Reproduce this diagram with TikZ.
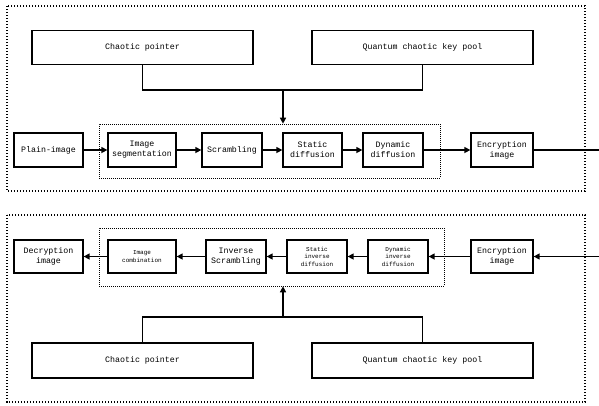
\documentclass[tikz,border=0pt]{standalone}
\usepackage{fontspec}
\setmainfont{Liberation Mono}
\usepackage{tikz}
\usetikzlibrary{arrows.meta}

\tikzset{
  blk/.style={draw, line width=1.3pt, align=center, inner sep=0pt, font=\fontsize{8.3}{10}\selectfont},
  keybox/.style={blk, minimum width=221pt, minimum height=34pt},
  stage/.style={blk, minimum height=34pt},
  tiny/.style={font=\fontsize{6}{7.5}\selectfont},
  outer/.style={line width=1.4pt, dash pattern=on 1.4pt off 1.6pt},
  inner/.style={draw, line width=0.6pt, dash pattern=on 0.6pt off 1.4pt, inner sep=0pt},
  flow/.style={line width=1.4pt, -{Triangle[length=6pt,width=6pt]}}
}

\begin{document}
\begin{tikzpicture}[x=1pt, y=-1pt]
    \useasboundingbox (0,0) rectangle (599,405);

    % cornici esterne
    \draw[outer] (7,6) rectangle (585,191);
    \draw[outer] (7,215) rectangle (585,402);

    % --- cifratura ---
    \node[keybox] (cp1) at (142.5,47.5) {Chaotic pointer};
    \node[keybox] (kq1) at (422.5,47.5) {Quantum chaotic key pool};

    \node[inner, minimum width=341pt, minimum height=54pt] (box1) at (269.5,151) {};

    \node[stage, minimum width=69pt] (plain) at (48.5,150) {Plain-image};
    \node[stage, minimum width=68pt] (seg) at (142,150) {Image\\segmentation};
    \node[stage, minimum width=60pt] (scr) at (232,150) {Scrambling};
    \node[stage, minimum width=59pt] (sdif) at (312.5,150) {Static\\diffusion};
    \node[stage, minimum width=60pt] (ddif) at (393,150) {Dynamic\\diffusion};
    \node[stage, minimum width=62pt] (enc1) at (502,150) {Encryption\\image};

    % chiavi verso il blocco
    \coordinate (j1) at (283,90);
    \draw[line width=1.4pt] (cp1.south) |- (j1) -| (kq1.south);
    \draw[flow] (j1) -- (j1 |- box1.north);

    \draw[flow] (plain) -- (seg);
    \draw[flow] (seg) -- (scr);
    \draw[flow] (scr) -- (sdif);
    \draw[flow] (sdif) -- (ddif);
    \draw[flow] (ddif) -- (enc1);
    \coordinate (out1) at (599,150);
    \draw[line width=1.4pt] (enc1) -- (out1);

    % --- decifratura ---
    \node[inner, minimum width=345pt, minimum height=58pt] (box2) at (271.5,257) {};

    \node[stage, minimum width=69pt, minimum height=33pt] (dec) at (48.5,256.5) {Decryption\\image};
    \node[stage, minimum width=68pt, minimum height=33pt, tiny] (comb) at (142,256.5) {Image\\combination};
    \node[stage, minimum width=60pt, minimum height=33pt] (iscr) at (236,256.5) {Inverse\\Scrambling};
    \node[stage, minimum width=60pt, minimum height=33pt, tiny] (sidif) at (317,256.5) {Static\\inverse\\diffusion};
    \node[stage, minimum width=60pt, minimum height=33pt, tiny] (didif) at (398,256.5) {Dynamic\\inverse\\diffusion};
    \node[stage, minimum width=62pt, minimum height=33pt] (enc2) at (502,256.5) {Encryption\\image};

    \coordinate (in2) at (599,256.5);
    \draw[flow] (in2) -- (enc2);
    \draw[flow] (enc2) -- (didif);
    \draw[flow] (didif) -- (sidif);
    \draw[flow] (sidif) -- (iscr);
    \draw[flow] (iscr) -- (comb);
    \draw[flow] (comb) -- (dec);

    \node[keybox, minimum height=35pt] (cp2) at (142.5,360.5) {Chaotic pointer};
    \node[keybox, minimum height=35pt] (kq2) at (422.5,360.5) {Quantum chaotic key pool};

    % chiavi verso il blocco
    \coordinate (j2) at (283,317);
    \draw[line width=1.4pt] (cp2.north) |- (j2) -| (kq2.north);
    \draw[flow] (j2) -- (j2 |- box2.south);
\end{tikzpicture}
\end{document}
